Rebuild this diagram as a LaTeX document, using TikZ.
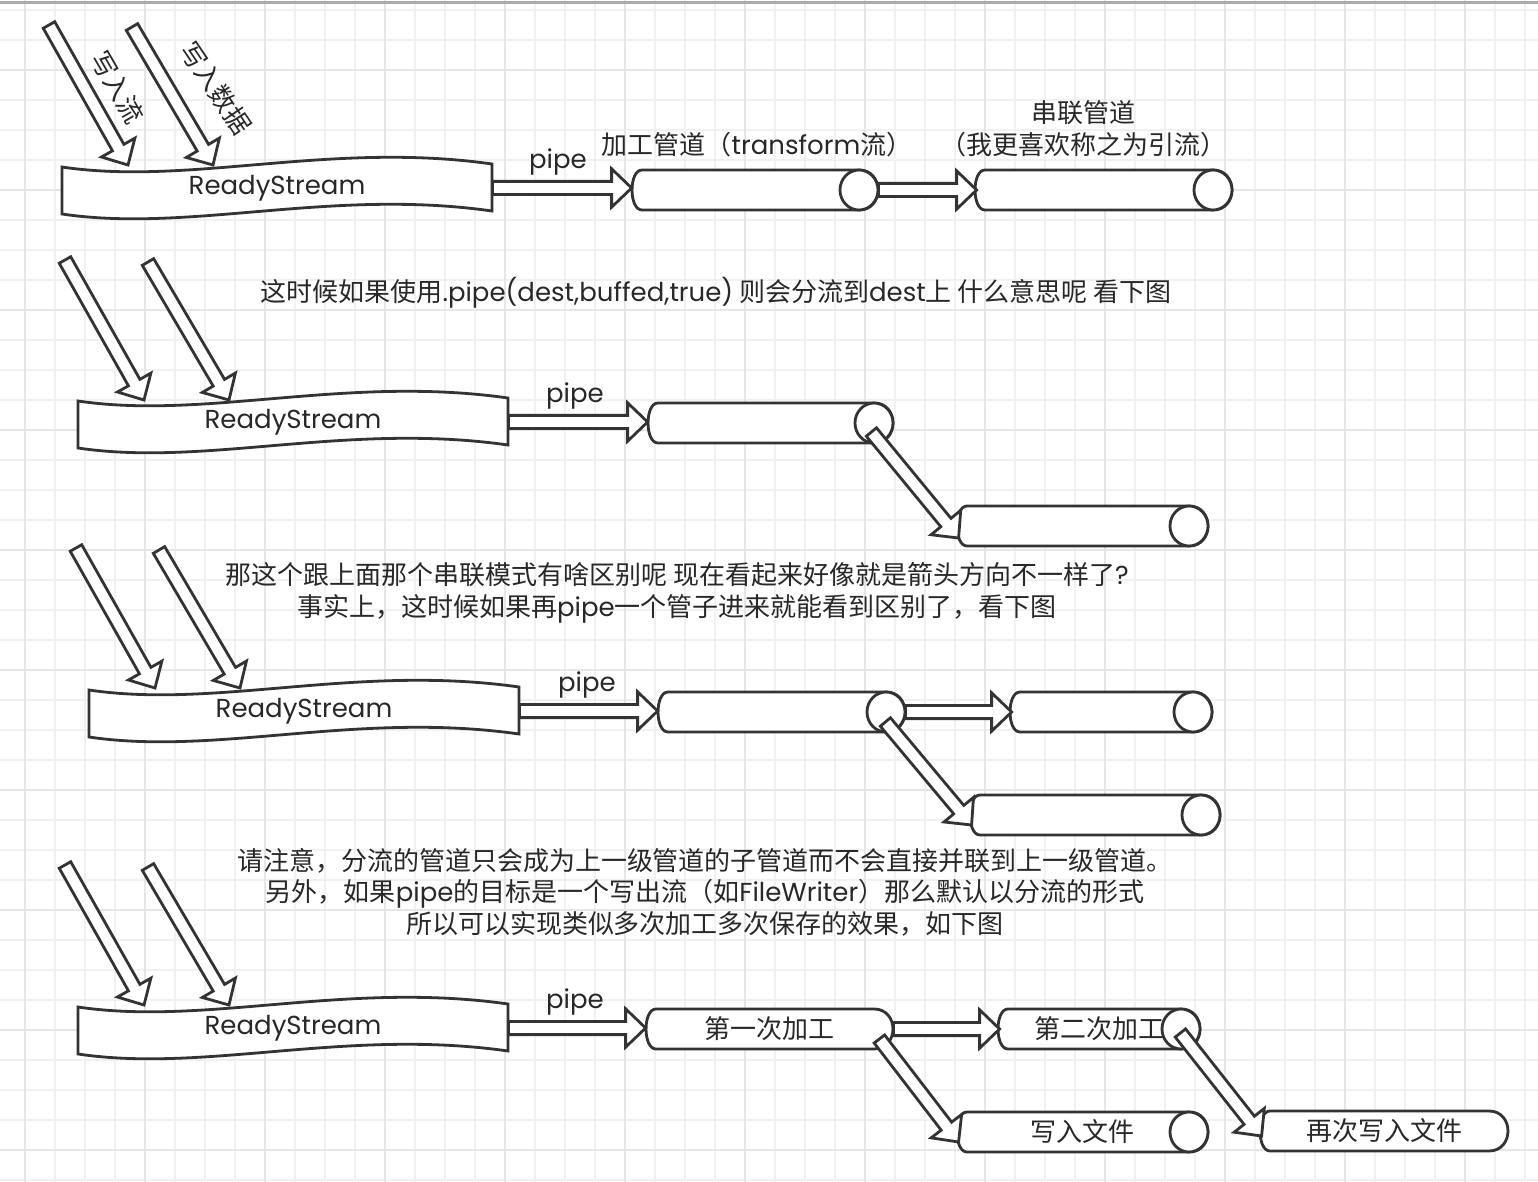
\documentclass[tikz,border=0pt]{standalone}
\usepackage{fontspec}
\setmainfont{Noto Sans CJK SC}
\newfontfamily\latf{Poppins}
\usetikzlibrary{calc}
\definecolor{ink}{HTML}{333333}
\definecolor{textink}{HTML}{282828}
\definecolor{gridminor}{HTML}{F1F1F1}
\definecolor{gridmajor}{HTML}{E6E6E6}
\definecolor{topbar}{HTML}{ABABAB}
\tikzset{
  shp/.style={draw=ink, line width=1.4pt, fill=white},
  lbl/.style={text=textink, font=\fontsize{13}{15.75}\selectfont, inner sep=0pt, align=center},
  latlbl/.style={text=textink, font=\latf\fontsize{13}{15.75}\selectfont, inner sep=0pt},
  gline/.style={line width=0.9pt},
}
% tape shape with ReadyStream label
\newcommand\tapeshape[3]{%
  \draw[shp] ({#2-214},{#3-21}) .. controls ({#2-86},{#3-2}) and ({#2+54},{#3-47}) .. ({#2+216},{#3-24})
    -- ({#2+216},{#3+23}) .. controls ({#2+54},{#3}) and ({#2-86},{#3+45}) .. ({#2-214},{#3+26}) -- cycle;
  \node[latlbl, minimum width=215pt, minimum height=23pt] (#1) at ({#2+1},{#3}) {ReadyStream};
}
% pipe body: L R yc
\newcommand\pbody[3]{%
  \draw[shp] ({#1+10},{#3-20}) -- ({#2-19},{#3-20})
    .. controls ({#2+6.3},{#3-20}) and ({#2+6.3},{#3+20}) .. ({#2-19},{#3+20})
    -- ({#1+10},{#3+20})
    .. controls ({#1-3.3},{#3+20}) and ({#1-3.3},{#3-20}) .. ({#1+10},{#3-20}) -- cycle;
}
\newcommand\stadshape[5]{%
  \pbody{#2}{#3}{#4}
  \node[lbl, minimum width={(#3-#2)*0.5pt}, minimum height=20pt] (#1) at ({(#2+#3)/2},{#4}) {#5};
}
\newcommand\cylshape[5]{%
  \pbody{#2}{#3}{#4}
  \draw[shp] ({#3-19},{#4}) ellipse [x radius=19, y radius=20];
  \node[lbl, minimum width={(#3-#2)*0.5pt}, minimum height=20pt] (#1) at ({(#2+#3)/2},{#4}) {#5};
}
% block arrow from #1 to tip #2
\newcommand\barrow[2]{%
  \coordinate (ba-h) at ($(#2)!10pt!(#1)$);
  \draw[shp] ($(#1)!3.3pt!90:(#2)$) -- ($(ba-h)!3.3pt!-90:(#1)$) -- ($(ba-h)!9.6pt!-90:(#1)$)
    -- (#2) -- ($(ba-h)!9.6pt!90:(#1)$) -- ($(ba-h)!3.3pt!90:(#1)$) -- ($(#1)!3.3pt!-90:(#2)$) -- cycle;
}
\begin{document}
\begin{tikzpicture}[x=0.5pt,y=-0.5pt]
\useasboundingbox (0,0) rectangle (1538,1182);
\fill[white] (0,0) rectangle (1538,1182);
% grid
\foreach \gx in {25,55,...,1525} \draw[gline, gridminor] (\gx,0) -- (\gx,1182);
\foreach \gy in {10,40,...,1180} \draw[gline, gridminor] (0,\gy) -- (1538,\gy);
\foreach \gx in {25,145,...,1465} \draw[gline, gridmajor] (\gx,0) -- (\gx,1182);
\foreach \gy in {70,190,...,1150} \draw[gline, gridmajor] (0,\gy) -- (1538,\gy);
\draw[topbar, line width=1.1pt] (0,2.5) -- (1538,2.5);

% ===== Row 1 =====
\tapeshape{rs1}{276}{188}
\cylshape{c1a}{632}{878}{190}{}
\cylshape{c1b}{975}{1232}{190}{}
\coordinate (r1a) at (49,25);  \coordinate (r1at) at (128,165);
\coordinate (r1b) at (132,27); \coordinate (r1bt) at (213,165);
\barrow{r1a}{r1at}
\barrow{r1b}{r1bt}
\coordinate (p1t) at (rs1.east -| c1a.west);
\barrow{rs1.east}{p1t}
\coordinate (p1u) at ($(c1b.west)+(2,0)$);
\barrow{c1a.east}{p1u}
\node[lbl, rotate=-60] (w1) at (118,87) {写入流};
\node[lbl, rotate=-56] (w2) at (216,88) {写入数据};
\node[latlbl] (pl1) at (558,162) {pipe};
\node[lbl] (l1) at (757,145) {加工管道（{\latf transform}流）};
\node[lbl] (l2) at (1083,129) {串联管道\\（我更喜欢称之为引流）};

% ===== Row 2 =====
\node[lbl] (t1) at (716,293) {这时候如果使用{\latf .pipe(dest,buffed,true)} 则会分流到{\latf dest}上 什么意思呢 看下图};
\tapeshape{rs2}{292}{422}
\cylshape{c2a}{648}{893}{423}{}
\cylshape{c2b}{957}{1208}{526}{}
\coordinate (r2a) at (65,260);  \coordinate (r2at) at (144,400);
\coordinate (r2b) at (148,262); \coordinate (r2bt) at (229,400);
\barrow{r2a}{r2at}
\barrow{r2b}{r2bt}
\coordinate (p2t) at (rs2.east -| c2a.west);
\barrow{rs2.east}{p2t}
\coordinate (d2s) at ($(c2a.east)+(-22,9)$);
\coordinate (d2t) at ($(c2b.west)+(2,12)$);
\barrow{d2s}{d2t}
\node[latlbl] (pl2) at (575,396) {pipe};

% ===== Row 3 =====
\node[lbl] (t2) at (677,593) {那这个跟上面那个串联模式有啥区别呢 现在看起来好像就是箭头方向不一样了{\latf ?}\\事实上，这时候如果再{\latf pipe}一个管子进来就能看到区别了，看下图};
\tapeshape{rs3}{303}{711}
\cylshape{c3a}{658}{905}{712}{}
\cylshape{c3b}{1010}{1212}{712}{}
\cylshape{c3c}{970}{1220}{815}{}
\coordinate (r3a) at (76,548);  \coordinate (r3at) at (155,688);
\coordinate (r3b) at (159,550); \coordinate (r3bt) at (240,688);
\barrow{r3a}{r3at}
\barrow{r3b}{r3bt}
\coordinate (p3t) at (rs3.east -| c3a.west);
\barrow{rs3.east}{p3t}
\coordinate (p3u) at ($(c3b.west)+(2,0)$);
\barrow{c3a.east}{p3u}
\coordinate (d3s) at ($(c3a.east)+(-20,10)$);
\coordinate (d3t) at ($(c3c.west)+(2,10)$);
\barrow{d3s}{d3t}
\node[latlbl] (pl3) at (587,685) {pipe};

% ===== Row 4 =====
\node[lbl] (t3) at (705,892) {请注意，分流的管道只会成为上一级管道的子管道而不会直接并联到上一级管道。\\另外，如果{\latf pipe}的目标是一个写出流（如{\latf FileWriter}）那么默认以分流的形式\\所以可以实现类似多次加工多次保存的效果，如下图};
\tapeshape{rs4}{292}{1028}
\stadshape{d1}{646}{893}{1029}{第一次加工}
\cylshape{d2}{998}{1200}{1029}{第二次加工}
\cylshape{d3}{957}{1208}{1132}{写入文件}
\stadshape{d4}{1260}{1508}{1131}{再次写入文件}
\coordinate (r4a) at (65,865);  \coordinate (r4at) at (144,1005);
\coordinate (r4b) at (148,867); \coordinate (r4bt) at (229,1005);
\barrow{r4a}{r4at}
\barrow{r4b}{r4bt}
\coordinate (p4t) at (rs4.east -| d1.west);
\barrow{rs4.east}{p4t}
\coordinate (p4u) at ($(d2.west)+(2,0)$);
\barrow{d1.east}{p4u}
\coordinate (d4s) at ($(d1.east)+(-14,10)$);
\coordinate (d4t) at ($(d3.west)+(2,10)$);
\barrow{d4s}{d4t}
\coordinate (d5s) at ($(d2.east)+(-20,4)$);
\coordinate (d5t) at ($(d4.west)+(2,5)$);
\barrow{d5s}{d5t}
\node[latlbl] (pl4) at (575,1002) {pipe};
\end{tikzpicture}
\end{document}
